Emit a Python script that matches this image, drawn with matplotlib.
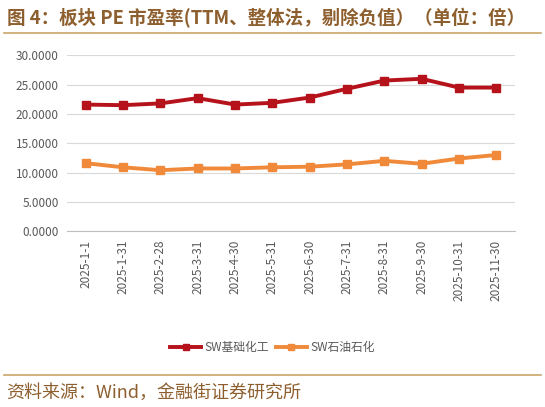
import matplotlib.pyplot as plt
from matplotlib.ticker import FormatStrFormatter
from matplotlib.lines import Line2D

plt.rcParams['font.family'] = ['Noto Sans CJK SC', 'DejaVu Sans']

dates = ["2025-1-1", "2025-1-31", "2025-2-28", "2025-3-31", "2025-4-30", "2025-5-31",
         "2025-6-30", "2025-7-31", "2025-8-31", "2025-9-30", "2025-10-31", "2025-11-30"]
chem = [21.6, 21.5, 21.8, 22.7, 21.6, 21.9, 22.8, 24.3, 25.7, 26.0, 24.5, 24.5]
petro = [11.6, 10.9, 10.4, 10.7, 10.7, 10.9, 11.0, 11.4, 12.0, 11.5, 12.4, 13.0]
series_names = ["SW基础化工", "SW石油石化"]

red = "#B5121B"
orange = "#F08A3A"
brown = "#8E5F2E"
gold = "#C9A46A"

fig = plt.figure(figsize=(5.45, 4.07), dpi=100)
ax = fig.add_axes([0.123, 0.432, 0.822, 0.432])

x = range(len(dates))
ax.plot(x, chem, color=red, lw=2.8, marker="s", ms=6, label=series_names[0])
ax.plot(x, petro, color=orange, lw=2.8, marker="s", ms=6, label=series_names[1])

ax.set_ylim(0, 30)
ax.set_yticks(range(0, 31, 5))
ax.yaxis.set_major_formatter(FormatStrFormatter("%.4f"))
ax.set_xlim(-0.5, len(dates) - 0.5)
ax.set_xticks(list(x))
ax.set_xticklabels(dates, rotation=90)
ax.tick_params(axis="both", colors="#595959", labelsize=8.5, length=0, pad=6)
ax.grid(axis="y", color="#D9D9D9", lw=0.8)
ax.set_axisbelow(True)
for s in ["top", "right", "left"]:
    ax.spines[s].set_visible(False)
ax.spines["bottom"].set_color("#BFBFBF")

handles = [Line2D([], [], color=red, lw=2.8, marker="s", ms=5),
           Line2D([], [], color=orange, lw=2.8, marker="s", ms=5)]
fig.legend(handles, series_names, loc="center", bbox_to_anchor=(0.5, 0.147), ncol=2,
           frameon=False, fontsize=8.5, labelcolor="#595959", handlelength=2.6,
           handletextpad=0.3, columnspacing=0.6)

fig.text(0.012, 0.957, "图 4：板块 PE 市盈率(TTM、整体法，剔除负值）（单位：倍）",
         fontsize=13.3, fontweight="bold", color=brown, va="center", ha="left")
fig.add_artist(Line2D([0.007, 0.993], [0.918, 0.918], color=gold, lw=1.2))
fig.add_artist(Line2D([0.007, 0.993], [0.078, 0.078], color=gold, lw=1.2))
fig.text(0.012, 0.035, "资料来源：Wind，金融街证券研究所",
         fontsize=13, color=brown, va="center", ha="left")

fig.savefig("out.png", dpi=100)
